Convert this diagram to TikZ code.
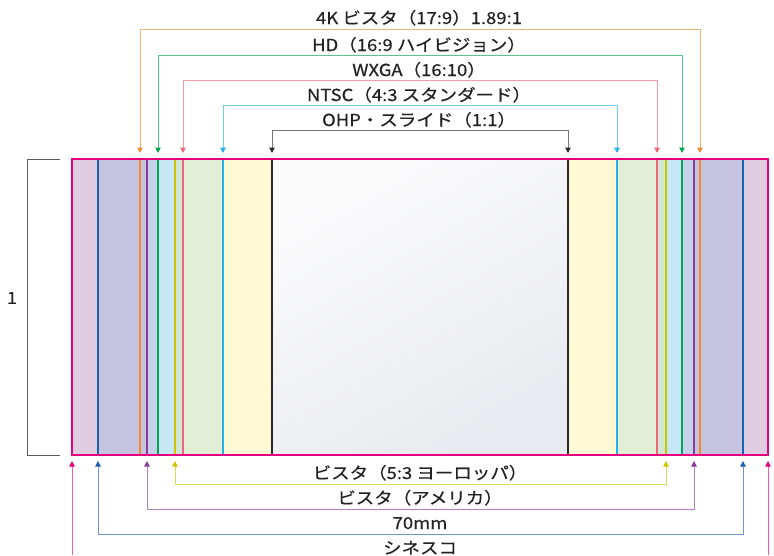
\documentclass[tikz,border=0pt]{standalone}
\usepackage{fontspec}
\setmainfont{Noto Sans CJK JP}[FakeStretch=1.12, FakeBold=0.4]
\usetikzlibrary{arrows.meta}
\definecolor{cScope}{HTML}{E4007F}
\definecolor{cSeventy}{HTML}{1F5FAF}
\definecolor{cAmerica}{HTML}{8B3C9B}
\definecolor{cFourK}{HTML}{F08A30}
\definecolor{cHD}{HTML}{00A650}
\definecolor{cEurope}{HTML}{CFC400}
\definecolor{cWXGA}{HTML}{EE6677}
\definecolor{cNTSC}{HTML}{22B2E8}
\definecolor{cOHP}{HTML}{2A2A2A}
\definecolor{fScope}{HTML}{DFCCE1}
\definecolor{fSeventy}{HTML}{C6C3E0}
\definecolor{fAmerica}{HTML}{C6D1EA}
\definecolor{fHD}{HTML}{C7E7F7}
\definecolor{fEurope}{HTML}{D1E6D4}
\definecolor{fWXGA}{HTML}{E2EFD6}
\definecolor{fNTSC}{HTML}{FEF9D5}
\definecolor{gTop}{HTML}{FBFBFC}
\definecolor{gBot}{HTML}{E9EAEF}
\definecolor{txt}{HTML}{222222}
\tikzset{
  lbl/.style={font=\fontsize{16.5}{19}\selectfont, text=txt, inner sep=0pt, anchor=base},
  conn/.style={line width=1pt, draw=#1!65, {Triangle[width=5.5pt,length=5.5pt,color=#1]}-{Triangle[width=5.5pt,length=5.5pt,color=#1]}},
  single/.style={line width=1pt, draw=#1!65, {Triangle[width=5.5pt,length=5.5pt,color=#1]}-},
  sep/.style={line width=1.4pt, draw=#1},
}
\begin{document}
\begin{tikzpicture}[x=1pt,y=-1pt]
\useasboundingbox (0,0) rectangle (774,555);
% nested fills
\fill[fScope] (72,159) rectangle (768,455);
\fill[fSeventy] (98,159) rectangle (743,455);
\fill[fAmerica] (147,159) rectangle (694,455);
\fill[fHD] (158,159) rectangle (682,455);
\fill[fEurope] (175,159) rectangle (666,455);
\fill[fWXGA] (183,159) rectangle (657,455);
\fill[fNTSC] (223,159) rectangle (617,455);
\shade[top color=gTop, bottom color=gBot, shading angle=30] (272,159) rectangle (568,455);
% separator lines
\foreach \x/\c in {98/cSeventy,743/cSeventy,140/cFourK,700/cFourK,147/cAmerica,694/cAmerica,158/cHD,682/cHD,175/cEurope,666/cEurope,183/cWXGA,657/cWXGA,223/cNTSC,617/cNTSC,272/cOHP,568/cOHP}{
  \draw[sep=\c] (\x,159) -- (\x,455);
}
\draw[line width=2.5pt, draw=cScope] (72,159) rectangle (768,455);
% left bracket
\coordinate (brT) at (60,159);
\coordinate (brTc) at (27,159);
\coordinate (brBc) at (27,455);
\coordinate (brB) at (60,455);
\draw[line width=1pt, draw=black!65] (brT) -- (brTc) -- (brBc) -- (brB);
\node[lbl, anchor=center] (one) at (12,298) {1};
% top labels
\node[lbl] (t4k) at (419,24) {4K ビスタ（17:9）1.89:1};
\node[lbl] (thd) at (419,51) {HD（16:9 ハイビジョン）};
\node[lbl] (twx) at (419,76) {WXGA（16:10）};
\node[lbl] (tnt) at (419,101) {NTSC（4:3 スタンダード）};
\node[lbl] (toh) at (419,126) {OHP・スライド（1:1）};
% top connectors
\coordinate (a4kL) at (140,153); \coordinate (a4kR) at (700,153);
\draw[conn=cFourK] (a4kL) -- (140,29) -- (700,29) -- (a4kR);
\coordinate (ahdL) at (158,153); \coordinate (ahdR) at (682,153);
\draw[conn=cHD] (ahdL) -- (158,55) -- (682,55) -- (ahdR);
\coordinate (awxL) at (183,153); \coordinate (awxR) at (657,153);
\draw[conn=cWXGA] (awxL) -- (183,80) -- (657,80) -- (awxR);
\coordinate (antL) at (223,153); \coordinate (antR) at (617,153);
\draw[conn=cNTSC] (antL) -- (223,105) -- (617,105) -- (antR);
\coordinate (aohL) at (272,153); \coordinate (aohR) at (568,153);
\draw[conn=cOHP] (aohL) -- (272,130) -- (568,130) -- (aohR);
% bottom labels
\node[lbl] (beu) at (420,479) {ビスタ（5:3 ヨーロッパ）};
\node[lbl] (bam) at (420,504) {ビスタ（アメリカ）};
\node[lbl] (b70) at (420,529) {70mm};
\node[lbl] (bsc) at (420,554) {シネスコ};
% bottom connectors
\coordinate (aeuL) at (175,461); \coordinate (aeuR) at (666,461);
\draw[conn=cEurope] (aeuL) -- (175,484) -- (666,484) -- (aeuR);
\coordinate (aamL) at (147,461); \coordinate (aamR) at (694,461);
\draw[conn=cAmerica] (aamL) -- (147,509) -- (694,509) -- (aamR);
\coordinate (a70L) at (98,461); \coordinate (a70R) at (743,461);
\draw[conn=cSeventy] (a70L) -- (98,534) -- (743,534) -- (a70R);
\coordinate (ascL) at (72,461); \coordinate (ascR) at (768,461);
\coordinate (escL) at (72,555); \coordinate (escR) at (768,555);
\draw[single=cScope] (ascL) -- (escL);
\draw[single=cScope] (ascR) -- (escR);
\end{tikzpicture}
\end{document}
